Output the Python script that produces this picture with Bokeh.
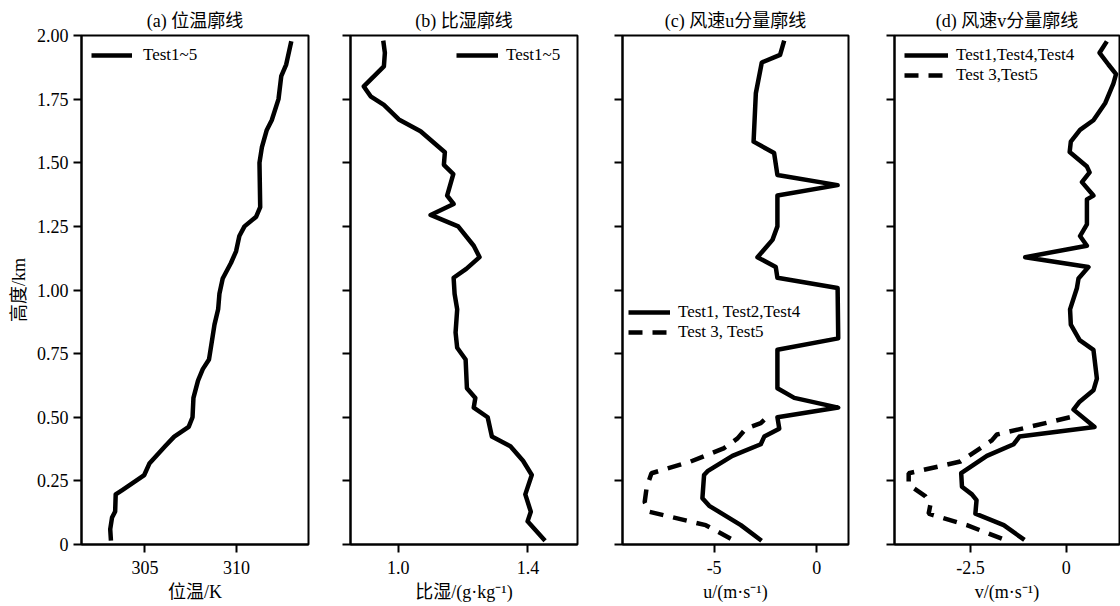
from bokeh.plotting import figure
from bokeh.layouts import row
from bokeh.models import Range1d, FixedTicker, Legend, LegendItem, PrintfTickFormatter, Title
from bokeh.embed import file_html
from bokeh.resources import INLINE

FONT = "'Liberation Serif', 'Noto Sans CJK SC'"

# ---------------- data ----------------
y_ticks = [0, 0.25, 0.5, 0.75, 1.0, 1.25, 1.5, 1.75, 2.0]

# (a) potential temperature
theta_h = [0.015, 0.06, 0.106, 0.13, 0.197, 0.215, 0.273, 0.318, 0.386, 0.424, 0.462, 0.5,
           0.576, 0.644, 0.689, 0.727, 0.818, 0.864, 0.924, 0.985, 1.045, 1.106, 1.152, 1.212,
           1.25, 1.288, 1.326, 1.5, 1.56, 1.629, 1.667, 1.75, 1.84, 1.886, 1.977]
theta = [303.14, 303.1, 303.2, 303.37, 303.4, 303.78, 304.96, 305.24, 306.1, 306.6, 307.39, 307.6,
         307.65, 307.9, 308.16, 308.5, 308.7, 308.8, 309.0, 309.07, 309.25, 309.7, 309.98, 310.16,
         310.44, 311.08, 311.3, 311.26, 311.39, 311.66, 311.93, 312.3, 312.45, 312.72, 313.0]

# (b) specific humidity
q_h = [0.015, 0.091, 0.129, 0.197, 0.273, 0.329, 0.386, 0.424, 0.5, 0.538, 0.576, 0.614,
       0.727, 0.773, 0.833, 0.924, 0.985, 1.048, 1.083, 1.129, 1.174, 1.25, 1.295, 1.338,
       1.371, 1.455, 1.492, 1.541, 1.624, 1.67, 1.727, 1.761, 1.8, 1.879, 1.932, 1.98]
q = [1.453, 1.399, 1.409, 1.392, 1.412, 1.385, 1.346, 1.289, 1.276, 1.233, 1.238, 1.212,
     1.208, 1.182, 1.177, 1.182, 1.174, 1.171, 1.21, 1.251, 1.233, 1.185, 1.1, 1.171,
     1.151, 1.17, 1.141, 1.144, 1.069, 1.002, 0.956, 0.915, 0.894, 0.956, 0.959, 0.954]

# (c) u component
u_h_124 = [0.015, 0.076, 0.152, 0.182, 0.273, 0.288, 0.348, 0.394, 0.424, 0.455, 0.5, 0.538,
           0.576, 0.614, 0.765, 0.81, 1.008, 1.048, 1.09, 1.129, 1.167, 1.197, 1.25, 1.371,
           1.412, 1.452, 1.538, 1.583, 1.773, 1.894, 1.924, 1.98]
u_124 = [-2.69, -3.70, -5.24, -5.57, -5.49, -5.32, -4.11, -2.73, -2.56, -1.83, -1.92, 1.04,
         -1.1, -1.92, -1.92, 1.04, 1.01, -1.92, -2.0, -2.89, -2.48, -2.16, -1.92, -1.92,
         1.01, -1.92, -2.08, -3.08, -2.97, -2.68, -1.79, -1.59]
u_h_35 = [0.023, 0.076, 0.129, 0.167, 0.227, 0.28, 0.326, 0.379, 0.417, 0.455, 0.477, 0.51]
u_35 = [-4.19, -5.41, -8.17, -8.38, -8.28, -8.05, -6.14, -4.51, -3.86, -3.46, -2.73, -2.3]

# (d) v component
v_h_144 = [0.018, 0.076, 0.121, 0.174, 0.197, 0.227, 0.28, 0.348, 0.394, 0.424, 0.462, 0.53,
           0.561, 0.606, 0.652, 0.765, 0.803, 0.864, 0.924, 1.008, 1.045, 1.09, 1.129, 1.174,
           1.212, 1.258, 1.356, 1.371, 1.424, 1.462, 1.485, 1.542, 1.583, 1.629, 1.667, 1.735,
           1.811, 1.848, 1.886, 1.932, 1.977]
v_144 = [-1.09, -1.63, -2.37, -2.34, -2.46, -2.72, -2.74, -2.07, -1.37, -1.22, 0.74, 0.19,
         0.35, 0.71, 0.80, 0.71, 0.35, 0.12, 0.10, 0.28, 0.32, 0.58, -1.07, 0.54,
         0.36, 0.54, 0.54, 0.71, 0.41, 0.61, 0.54, 0.09, 0.12, 0.36, 0.71, 1.02,
         1.23, 1.30, 1.1, 0.87, 1.06]
v_h_35 = [0.023, 0.076, 0.121, 0.159, 0.189, 0.235, 0.28, 0.326, 0.409, 0.432, 0.5]
v_35 = [-1.68, -2.59, -3.59, -3.54, -3.67, -4.11, -4.11, -2.76, -1.94, -1.81, 0.10]

titles = ["(a) 位温廓线", "(b) 比湿廓线", "(c) 风速u分量廓线", "(d) 风速v分量廓线"]
xlabels = ["位温/K", "比湿/(g·kg⁻¹)", "u/(m·s⁻¹)", "v/(m·s⁻¹)"]


def make_fig(width, left, right, xr, xticks, xtlabels, show_ylabels, title, xlabel):
    p = figure(width=width, height=606, output_backend="svg", toolbar_location=None,
               x_range=Range1d(*xr), y_range=Range1d(0, 2),
               min_border_left=left, min_border_right=right,
               min_border_top=35, min_border_bottom=62)
    p.add_layout(Title(text=title, align="center", text_font=FONT, text_font_size="18px",
                       text_font_style="normal", text_color="black", standoff=9), "above")
    p.grid.visible = False
    p.background_fill_color = "white"
    p.border_fill_color = "white"
    p.outline_line_color = "black"
    p.outline_line_width = 2
    p.outline_line_alpha = 1
    for ax in (p.xaxis[0], p.yaxis[0]):
        ax.axis_line_width = 2
        ax.axis_line_color = "black"
        ax.major_tick_line_width = 2
        ax.major_tick_line_color = "black"
        ax.major_tick_out = 8
        ax.major_tick_in = 0
        ax.minor_tick_line_color = None
        ax.major_label_text_font = FONT
        ax.major_label_text_font_size = "18px"
        ax.major_label_text_color = "black"
        ax.major_label_standoff = 5
        ax.axis_label_text_font = FONT
        ax.axis_label_text_font_size = "18px"
        ax.axis_label_text_font_style = "normal"
        ax.axis_label_text_color = "black"
    p.xaxis.ticker = FixedTicker(ticks=xticks)
    p.xaxis.major_label_overrides = {t: l for t, l in zip(xticks, xtlabels)}
    p.xaxis.major_label_standoff = 8
    p.xaxis.axis_label = xlabel
    p.xaxis.axis_label_standoff = 5
    p.yaxis.ticker = FixedTicker(ticks=y_ticks)
    if show_ylabels:
        p.yaxis.formatter = PrintfTickFormatter(format="%.2f")
        p.yaxis.major_label_overrides = {0: "0"}
        p.yaxis.axis_label = "高度/km"
        p.yaxis.axis_label_standoff = 5
    else:
        p.yaxis.major_label_overrides = {t: "" for t in y_ticks}
    return p


def add_legend(p, items, location, margin, padding, gw, standoff):
    lg = Legend(items=items, location=location, margin=margin, padding=padding,
                glyph_width=gw, glyph_height=20, label_height=20, label_standoff=standoff,
                spacing=0, label_text_font=FONT, label_text_font_size="17px",
                label_text_color="black", border_line_alpha=0, background_fill_alpha=0)
    p.add_layout(lg)


LW = 4.5
DASH = "14 10"

# (a)
pa = make_fig(330, 81, 22, (301.53, 313.94), [305, 310], ["305", "310"], True, titles[0], xlabels[0])
ra = pa.line(theta, theta_h, line_width=LW, line_color="black", line_join="round")
add_legend(pa, [LegendItem(label="Test1~5", renderers=[ra])], "top_left", 5, 5, 41, 11)

# (b)
pb = make_fig(270, 20, 23, (0.853, 1.553), [1.0, 1.4], ["1.0", "1.4"], False, titles[1], xlabels[1])
rb = pb.line(q, q_h, line_width=LW, line_color="black", line_join="round")
add_legend(pb, [LegendItem(label="Test1~5", renderers=[rb])], (101, 474), 0, 5, 42, 8)

# (c)
pc = make_fig(272, 22, 24, (-9.46, 1.54), [-5, 0], ["-5", "0"], False, titles[2], xlabels[2])
rc1 = pc.line(u_124, u_h_124, line_width=LW, line_color="black", line_join="round")
rc2 = pc.line(u_35, u_h_35, line_width=LW, line_color="black", line_dash=DASH)
add_legend(pc, [LegendItem(label="Test1, Test2,Test4", renderers=[rc1]),
                LegendItem(label="Test 3, Test5", renderers=[rc2])], (1, 197), 0, 5, 42, 8)

# (d)
pd_ = make_fig(248, 22, 1, (-4.48, 1.39), [-2.5, 0], ["-2.5", "0"], False, titles[3], xlabels[3])
rd1 = pd_.line(v_144, v_h_144, line_width=LW, line_color="black", line_join="round")
rd2 = pd_.line(v_35, v_h_35, line_width=LW, line_color="black", line_dash=DASH)
add_legend(pd_, [LegendItem(label="Test1,Test4,Test4", renderers=[rd1]),
                 LegendItem(label="Test 3,Test5", renderers=[rd2])], "top_left", 5, 5, 44, 8)

layout = row(pa, pb, pc, pd_)
open("out.html", "w").write(file_html(layout, INLINE))
